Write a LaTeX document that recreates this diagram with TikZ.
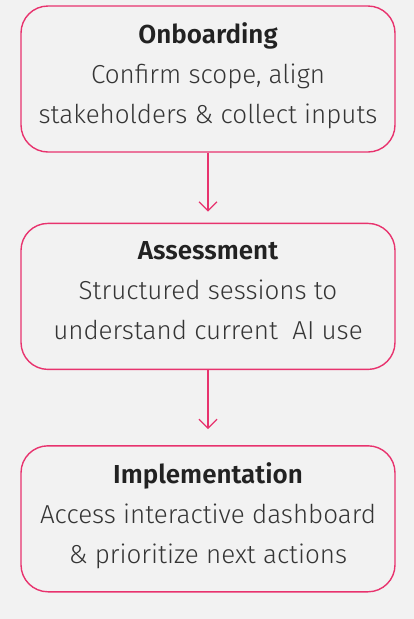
\documentclass[tikz,border=0pt]{standalone}
\usepackage{fontspec}
\setmainfont{Fira Sans Light}[BoldFont={Fira Sans SemiBold}]
\usetikzlibrary{arrows.meta, positioning}

\definecolor{stepred}{HTML}{E8336E}
\definecolor{pagegray}{HTML}{F2F2F2}
\definecolor{bodytext}{HTML}{353535}
\definecolor{titletext}{HTML}{222222}

% extra depth under the last line, lifts the text a little
\newcommand{\lastline}{\rule[-12pt]{0pt}{1pt}}

\begin{document}
\begin{tikzpicture}[x = 1pt, y = -1pt, > = {Straight Barb[length = 9pt, width = 18pt]},
    every node/.style = {font = \fontsize{26}{40}\selectfont, text = bodytext, align = center},
    stepbox/.style = {draw = stepred, line width = 1.4pt, rounded corners = 27pt,
        minimum width = 374pt, minimum height = 146pt, inner sep = 0pt},
    flow/.style = {->, draw = stepred, line width = 1.3pt}]
    \fill[pagegray] (0, 0) rectangle (414, 619);
    \node[stepbox] (onboard) at (208, 79) {\textcolor{titletext}{\bfseries Onboarding}\\ Confirm scope, align\\ stakeholders \& collect inputs\lastline};
    \node[stepbox, below = 70pt of onboard] (assess) {\textcolor{titletext}{\bfseries Assessment}\\ Structured sessions to\\ understand current\ \ AI use\lastline};
    \node[stepbox, below = 75pt of assess] (implement) {\textcolor{titletext}{\bfseries Implementation}\\ Access interactive dashboard\\ \& prioritize next actions\lastline};
    \draw[flow, shorten > = 11pt] (onboard) -- (assess);
    \draw[flow, shorten > = 16pt] (assess) -- (implement);
\end{tikzpicture}
\end{document}
